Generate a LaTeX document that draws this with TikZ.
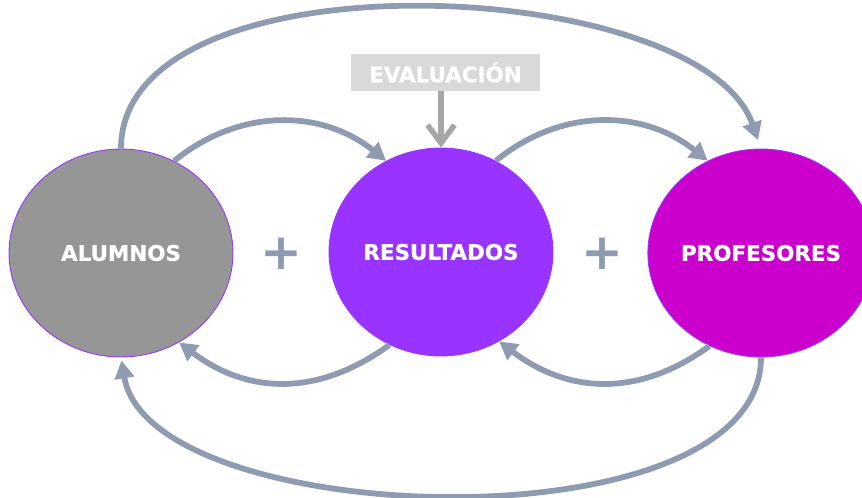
\documentclass[tikz,border=0pt]{standalone}
\usepackage{fontspec}
\setmainfont{DejaVu Sans}
\newfontfamily\heavyfont{DejaVu Sans}[BoldFeatures={FakeBold=0.8}]
\usetikzlibrary{arrows.meta, shapes.geometric}
\definecolor{linkgray}{HTML}{8E9BB0}
\definecolor{alumgray}{HTML}{969696}
\definecolor{respurple}{HTML}{9933FF}
\definecolor{profmagenta}{HTML}{CC00CC}
\definecolor{evalbox}{HTML}{D9D9D9}
\definecolor{evalgray}{HTML}{A6A6A6}

\begin{document}
\begin{tikzpicture}[
            x=0.02cm, y=-0.02cm,
            actor/.style={ellipse, draw=respurple, line width=0.5pt, minimum width=4.48cm, minimum height=4.16cm, inner sep=0pt, text=white, font=\heavyfont\bfseries\fontsize{12.2}{14}\selectfont},
            link/.style={-{Triangle[length=0.36cm, width=0.38cm]}, line width=0.115cm, draw=linkgray},
            plus/.style={text=linkgray, font=\bfseries\fontsize{28.5}{30}\selectfont}
        ]

            \useasboundingbox (0,0) rectangle (862,497);

            \node[actor, fill=alumgray] (alumnos) at (121,253) {ALUMNOS};
            \node[actor, fill=respurple] (resultados) at (441,252) {RESULTADOS};
            \node[actor, fill=profmagenta] (profesores) at (761,253) {PROFESORES};

            \node[plus] (mas1) at (281,254) {+};
            \node[plus] (mas2) at (602,254) {+};

            \node[fill=evalbox, text=white, font=\heavyfont\bfseries\fontsize{12.2}{14}\selectfont, minimum width=3.78cm, minimum height=0.74cm, inner sep=0pt] (evaluacion) at (445.5,72.5) {EVALUACIÓN};


            \draw[-{Straight Barb[length=0.36cm, width=0.54cm]}, line width=0.11cm, evalgray] (evaluacion.south -| resultados.north) -- (resultados.north);

            \draw[link] (alumnos.60) .. controls +(65,-53) and +(-65,-52) .. (resultados.121);
            \draw[link] (resultados.59) .. controls +(65,-53) and +(-65,-52) .. (profesores.120);
            \draw[link] (resultados.241) .. controls +(-70,51) and +(70,53) .. (alumnos.303);
            \draw[link] (profesores.241) .. controls +(-70,51) and +(70,53) .. (resultados.303);
            \draw[link, shorten >=0.18cm] (alumnos.north) .. controls +(0,-199) and +(-61,-174) .. (profesores.north);
            \draw[link, shorten >=0.06cm] (profesores.south) .. controls +(0,193) and +(29,173) .. (alumnos.south);

        \end{tikzpicture}
\end{document}
